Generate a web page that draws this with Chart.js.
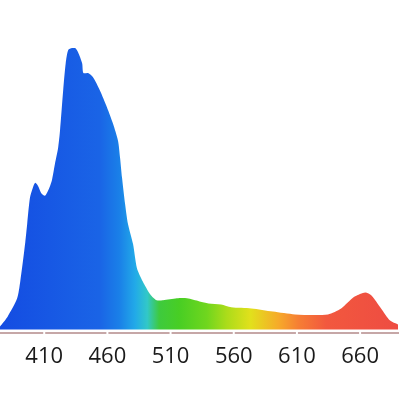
<!DOCTYPE html>
<html>
<head>
<meta charset="utf-8">
<script src="https://cdn.jsdelivr.net/npm/chart.js@4/dist/chart.umd.min.js"></script>
<style>
  html, body { margin: 0; padding: 0; background: #fff; }
  #wrap { width: 416px; height: 416px; position: relative; }
</style>
</head>
<body>
<div id="wrap"><canvas id="spectrum"></canvas></div>
<script>
// Spectrum: wavelength (nm) and relative intensity (peak = 100)
const wavelengths = [375, 381, 388.5, 391, 395, 396.5, 398.7, 401, 402.7, 405, 408, 410.6, 413, 416, 418.5, 421, 422.5, 425, 427, 429, 432, 434.5,
  436.7, 440, 441, 444.7, 448.6, 454, 459.7, 464.4, 468.4, 470, 471.6, 474, 476.3, 480.3, 483.4, 488, 494, 499, 504, 515, 523, 533, 540, 550,
  558, 574, 591, 608.5, 634.6, 645, 650, 656, 664, 669, 676.6, 683.7, 690];
const intensities = [1.1, 4.6, 11, 17, 31, 37.5, 46.8, 50.4, 52.1, 51.1, 48.2, 47.5, 49.3, 52.9, 58.9, 64.6, 70.7, 85, 94.6, 99.3, 100, 100,
  98.6, 94.6, 91.1, 91.1, 89.6, 85, 78.9, 73.2, 67.1, 61.1, 53.9, 44.6, 37.5, 30.4, 21.8, 17.1, 12.5, 10.4, 10.4, 11.1, 11.1, 10, 9.3, 8.9,
  7.9, 7.5, 6.4, 5.4, 5.4, 7.5, 9.5, 11.8, 13.2, 12.1, 7.5, 3.2, 1.8];
const tickValues = [410, 460, 510, 560, 610, 660];

// colour stops along the wavelength axis (fraction of plot width)
const gradStops = [
  [0.00, 'rgb(20,76,226)'], [0.25, 'rgb(26,100,230)'], [0.30, 'rgb(26,128,232)'],
  [0.34, 'rgb(34,170,232)'], [0.37, 'rgb(50,200,200)'], [0.40, 'rgb(62,202,62)'],
  [0.45, 'rgb(72,206,36)'], [0.52, 'rgb(112,214,30)'], [0.57, 'rgb(172,220,26)'],
  [0.63, 'rgb(226,224,28)'], [0.70, 'rgb(246,170,42)'], [0.75, 'rgb(246,126,52)'],
  [0.82, 'rgb(242,88,62)'], [1.00, 'rgb(238,76,66)']
];

function spectrumFill(context) {
  const chart = context.chart;
  const area = chart.chartArea;
  if (!area) return gradStops[0][1];
  const g = chart.ctx.createLinearGradient(area.left, 0, area.right, 0);
  gradStops.forEach(s => g.addColorStop(s[0], s[1]));
  return g;
}

// small white notches in the axis line where the ticks are
const tickNotches = {
  id: 'tickNotches',
  afterDraw(chart) {
    const x = chart.scales.x;
    const ctx = chart.ctx;
    ctx.save();
    ctx.fillStyle = '#fff';
    tickValues.forEach(v => {
      const px = x.getPixelForValue(v);
      ctx.fillRect(px - 1, chart.chartArea.bottom - 2, 2, 4);
    });
    ctx.restore();
  }
};

new Chart(document.getElementById('spectrum'), {
  type: 'line',
  data: {
    datasets: [{
      data: wavelengths.map((w, i) => ({ x: w, y: intensities[i] })),
      fill: 'origin',
      backgroundColor: spectrumFill,
      borderWidth: 0,
      pointRadius: 0,
      tension: 0.25
    }]
  },
  options: {
    responsive: true,
    maintainAspectRatio: false,
    animation: false,
    layout: { padding: { top: 48, left: 0, right: 18, bottom: 43 } },
    plugins: { legend: { display: false }, tooltip: { enabled: false } },
    scales: {
      x: {
        type: 'linear',
        min: 375,
        max: 690,
        afterBuildTicks: (scale) => { scale.ticks = tickValues.map(v => ({ value: v })); },
        grid: { display: false },
        border: { display: true, color: '#c6a7a7', width: 2 },
        ticks: {
          padding: 3,
          color: '#1a1a1a',
          maxRotation: 0,
          font: { family: 'Open Sans', size: 22 }
        }
      },
      y: {
        display: false,
        min: -1.07,
        max: 100
      }
    }
  },
  plugins: [tickNotches]
});
</script>
</body>
</html>
